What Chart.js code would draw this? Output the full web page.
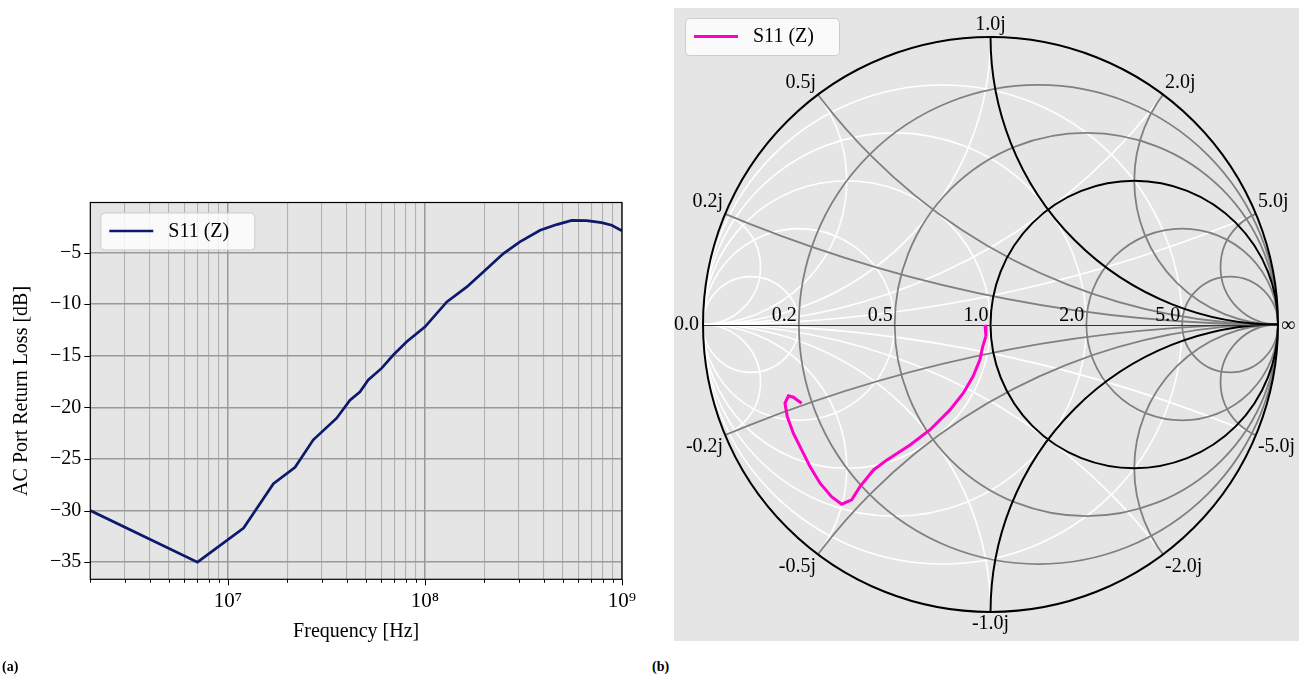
<!DOCTYPE html>
<html>
<head>
<meta charset="utf-8">
<script src="https://cdn.jsdelivr.net/npm/chart.js@4.4.1/dist/chart.umd.min.js"></script>
<style>
  body { margin: 0; background: #fff; width: 1299px; height: 679px; overflow: hidden; position: relative; }
  #left { position: absolute; left: 0; top: 0; }
  #right { position: absolute; left: 674px; top: 8px; }
  .tag { position: absolute; top: 659px; font: bold 14px "Liberation Serif", serif; color: #000; }
</style>
</head>
<body>
<canvas id="left" width="650" height="679" style="width:650px;height:679px"></canvas>
<canvas id="right" width="625" height="633" style="width:625px;height:633px"></canvas>
<div class="tag" style="left:2px">(a)</div>
<div class="tag" style="left:652px">(b)</div>
<script>
// ---- (a) return loss vs frequency ----
const freqHz = [2e6, 7.0e6, 1.2e7, 1.7e7, 2.19e7, 2.71e7, 3.56e7, 4.16e7, 4.68e7, 5.15e7, 6.03e7, 6.9e7,
                8.07e7, 1e8, 1.29e8, 1.63e8, 2.02e8, 2.5e8, 3.03e8, 3.84e8, 4.66e8, 5.56e8, 6.61e8, 7.88e8, 8.87e8, 1e9];
const s11dB = [-30.0, -35.0, -31.7, -27.4, -25.8, -23.15, -21.05, -19.3, -18.5, -17.35, -16.2, -14.93,
               -13.65, -12.2, -9.78, -8.33, -6.71, -5.1, -3.97, -2.84, -2.29, -1.88, -1.9, -2.1, -2.36, -2.9];
const xDecades = [1e6, 1e7, 1e8, 1e9];
const yTicks = [-35, -30, -25, -20, -15, -10, -5];

// ---- (b) smith chart, S11 as reflection coefficient ----
const s11Re = [-0.019, -0.016, -0.027, -0.037, -0.061, -0.095, -0.141, -0.210, -0.280, -0.360, -0.407, -0.454,
               -0.483, -0.518, -0.553, -0.593, -0.628, -0.657, -0.686, -0.707, -0.715, -0.703, -0.686, -0.657];
const s11Im = [-0.001, -0.041, -0.076, -0.123, -0.181, -0.239, -0.297, -0.366, -0.419, -0.471, -0.506, -0.564,
               -0.610, -0.625, -0.599, -0.552, -0.494, -0.436, -0.378, -0.320, -0.274, -0.248, -0.253, -0.274];
const gridVals = [0.2, 0.5, 1.0, 2.0, 5.0];

const serif = '"Liberation Serif", "DejaVu Serif", serif';
Chart.defaults.font.family = serif;
Chart.defaults.font.size = 20;
Chart.defaults.color = '#000';

const isDecade = v => Math.abs(Math.log10(v) - Math.round(Math.log10(v))) < 1e-9;
const sup = { '6': '⁶', '7': '⁷', '8': '⁸', '9': '⁹' };

function drawLegend(ctx, left, top, ds) {
  ctx.save();
  ctx.font = '20px ' + serif;
  const w = 154, h = 37;
  ctx.beginPath();
  ctx.roundRect(left + 0.5, top + 0.5, w, h, 4);
  ctx.fillStyle = 'rgba(255,255,255,0.8)';
  ctx.fill();
  ctx.strokeStyle = '#cccccc';
  ctx.lineWidth = 1;
  ctx.stroke();
  ctx.beginPath();
  ctx.moveTo(left + 9, top + 18.5);
  ctx.lineTo(left + 53, top + 18.5);
  ctx.strokeStyle = ds.borderColor;
  ctx.lineWidth = ds.borderWidth;
  ctx.stroke();
  ctx.fillStyle = '#000';
  ctx.textBaseline = 'middle';
  ctx.fillText(ds.label, left + 68, top + 19);
  ctx.restore();
}

const framePlugin = {
  id: 'frame',
  beforeDraw(chart) {
    const { ctx, chartArea: ca } = chart;
    ctx.save();
    ctx.fillStyle = '#e5e5e5';
    ctx.fillRect(ca.left, ca.top, ca.width, ca.height);
    ctx.restore();
  },
  afterDraw(chart) {
    const { ctx, chartArea: ca, scales: { x, y } } = chart;
    ctx.save();
    ctx.strokeStyle = '#000';
    ctx.lineWidth = 1;
    ctx.beginPath();
    x.ticks.forEach(t => {
      const p = Math.round(x.getPixelForValue(t.value)) + 0.5;
      ctx.moveTo(p, ca.bottom);
      ctx.lineTo(p, ca.bottom + (isDecade(t.value) ? 6 : 3.5));
    });
    y.ticks.forEach(t => {
      const p = Math.round(y.getPixelForValue(t.value)) + 0.5;
      ctx.moveTo(ca.left, p);
      ctx.lineTo(ca.left - 6, p);
    });
    ctx.stroke();
    ctx.lineWidth = 1.2;
    ctx.strokeRect(ca.left, ca.top, ca.width, ca.height);
    ctx.restore();
    drawLegend(ctx, ca.left + 10, ca.top + 10, chart.data.datasets[0]);
  }
};

new Chart(document.getElementById('left'), {
  type: 'scatter',
  data: {
    datasets: [{
      label: 'S11 (Z)',
      data: freqHz.map((f, i) => ({ x: f, y: s11dB[i] })),
      showLine: true,
      borderColor: '#0d1a6b',
      borderWidth: 2.7,
      pointRadius: 0,
      tension: 0
    }]
  },
  options: {
    responsive: false,
    animation: false,
    layout: { padding: { top: 202.5, right: 28, bottom: 0, left: 0 } },
    plugins: { legend: { display: false }, tooltip: { enabled: false } },
    scales: {
      x: {
        type: 'logarithmic',
        min: 2e6,
        max: 1e9,
        afterBuildTicks(scale) {
          const ticks = [];
          xDecades.forEach(d => {
            for (let m = 1; m <= 9; m++) {
              const v = d * m;
              if (v >= scale.min * 0.999 && v <= scale.max * 1.001) ticks.push({ value: v, major: m === 1 });
            }
          });
          scale.ticks = ticks;
        },
        afterFit(scale) { scale.height = 99.7; },
        ticks: {
          autoSkip: false,
          maxRotation: 0,
          padding: 10,
          font: { size: 21 },
          callback: v => isDecade(v) ? '10' + String(Math.round(Math.log10(v))).split('').map(c => sup[c]).join('') : ''
        },
        grid: {
          drawTicks: false,
          color: c => isDecade(c.tick.value) ? '#9a9a9a' : '#b2b2b2',
          lineWidth: c => isDecade(c.tick.value) ? 1.5 : 1.1
        },
        border: { display: false },
        title: { display: true, text: 'Frequency [Hz]', padding: { top: 0, bottom: 35 } }
      },
      y: {
        min: -36.66,
        max: -0.15,
        afterBuildTicks(scale) { scale.ticks = yTicks.map(v => ({ value: v })); },
        afterFit(scale) { scale.width = 90.3; },
        ticks: { padding: 9, callback: v => '\u2212' + Math.abs(v) },
        grid: { drawTicks: false, color: '#9a9a9a', lineWidth: 1.5 },
        border: { display: false },
        title: { display: true, text: 'AC Port Return Loss [dB]', padding: { top: 10, bottom: 0 } }
      }
    }
  },
  plugins: [framePlugin]
});

// ---- smith chart grid drawn through the scales ----
const smithPlugin = {
  id: 'smith',
  beforeDraw(chart) {
    const { ctx, chartArea: ca } = chart;
    ctx.save();
    ctx.fillStyle = '#e5e5e5';
    ctx.fillRect(ca.left, ca.top, ca.width, ca.height);
    ctx.restore();
  },
  beforeDatasetsDraw(chart) {
    const { ctx, scales: { x, y } } = chart;
    const px = v => x.getPixelForValue(v);
    const py = v => y.getPixelForValue(v);
    const k = px(1) - px(0);
    const circ = (cr, ci, rad) => {
      ctx.beginPath();
      ctx.arc(px(cr), py(ci), Math.abs(rad) * k, 0, 2 * Math.PI);
      ctx.stroke();
    };
    ctx.save();
    ctx.beginPath();
    ctx.arc(px(0), py(0), k, 0, 2 * Math.PI);
    ctx.clip();
    // admittance grid
    ctx.lineWidth = 1.6;
    ctx.strokeStyle = '#ffffff';
    gridVals.forEach(g => circ(-g / (1 + g), 0, 1 / (1 + g)));
    gridVals.forEach(b => { circ(-1, 1 / b, 1 / b); circ(-1, -1 / b, 1 / b); });
    // impedance grid
    [false, true].forEach(black => {
      ctx.strokeStyle = black ? '#000000' : '#808080';
      ctx.lineWidth = black ? 2 : 1.8;
      gridVals.filter(v => (v === 1) === black).forEach(r => circ(r / (1 + r), 0, 1 / (1 + r)));
      gridVals.filter(v => (v === 1) === black).forEach(xv => { circ(1, 1 / xv, 1 / xv); circ(1, -1 / xv, 1 / xv); });
    });
    ctx.beginPath();
    ctx.moveTo(px(-1), Math.round(py(0)) + 0.5);
    ctx.lineTo(px(1), Math.round(py(0)) + 0.5);
    ctx.strokeStyle = '#333333';
    ctx.lineWidth = 1;
    ctx.stroke();
    ctx.restore();

    ctx.save();
    ctx.strokeStyle = '#000';
    ctx.lineWidth = 2;
    circ(0, 0, 1);

    // labels
    ctx.font = '20px ' + serif;
    ctx.fillStyle = '#000';
    ctx.textAlign = 'right';
    ctx.textBaseline = 'middle';
    ctx.fillText('0.0', px(-1) - 4, py(0));
    ctx.textBaseline = 'alphabetic';
    gridVals.forEach(r => ctx.fillText(r.toFixed(1), px((r - 1) / (r + 1)) - 2, py(0) - 4));
    ctx.textAlign = 'left';
    ctx.textBaseline = 'middle';
    ctx.fillText('\u221e', px(1) + 3, py(0) + 1);
    gridVals.forEach(xv => {
      [1, -1].forEach(s => {
        const d = xv * xv + 1;
        const re = (xv * xv - 1) / d, im = s * 2 * xv / d;
        const lx = px(re), ly = py(im);
        ctx.textAlign = Math.abs(re) < 1e-9 ? 'center' : (re < 0 ? 'right' : 'left');
        ctx.textBaseline = s > 0 ? 'bottom' : 'top';
        const dx = Math.abs(re) < 1e-9 ? 0 : (re < 0 ? -2 : 2);
        ctx.fillText((s < 0 ? '-' : '') + xv.toFixed(1) + 'j', lx + dx, ly + (s > 0 ? -2 : 2));
      });
    });
    ctx.restore();
  },
  afterDraw(chart) {
    drawLegend(chart.ctx, 11, 10, chart.data.datasets[0]);
  }
};

new Chart(document.getElementById('right'), {
  type: 'scatter',
  data: {
    datasets: [{
      label: 'S11 (Z)',
      data: s11Re.map((r, i) => ({ x: r, y: s11Im[i] })),
      showLine: true,
      borderColor: '#ff00c8',
      borderWidth: 3,
      pointRadius: 0,
      tension: 0
    }]
  },
  options: {
    responsive: false,
    animation: false,
    layout: { padding: 0 },
    plugins: { legend: { display: false }, tooltip: { enabled: false } },
    scales: {
      x: { type: 'linear', min: -1.101, max: 1.073, display: false },
      y: { type: 'linear', min: -1.101, max: 1.101, display: false }
    }
  },
  plugins: [smithPlugin]
});
</script>
</body>
</html>
